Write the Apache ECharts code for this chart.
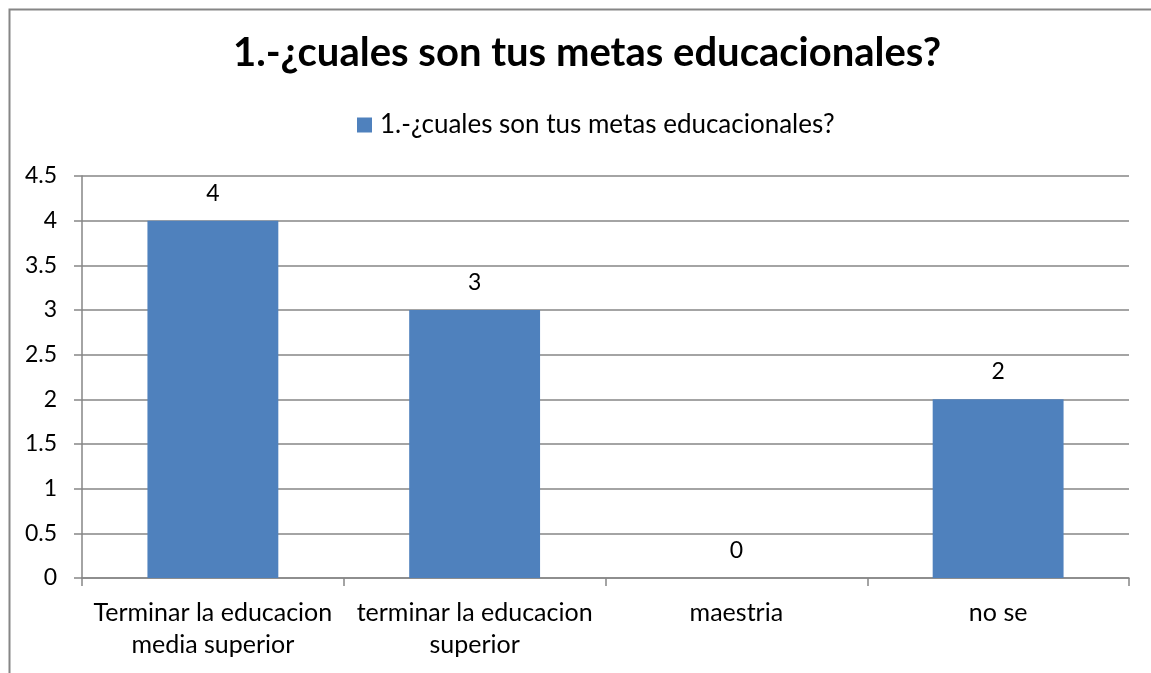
<!DOCTYPE html>
<html>
<head>
<meta charset="utf-8">
<script src="https://cdn.jsdelivr.net/npm/echarts@6/dist/echarts.min.js"></script>
<style>
html,body{margin:0;padding:0;background:#fff;}
#c{width:1151px;height:673px;}
</style>
</head>
<body>
<div id="c"></div>
<script>
const titleText = '1.-¿cuales son tus metas educacionales?';
const seriesName = '1.-¿cuales son tus metas educacionales?';
const categories = ['Terminar la educacion\nmedia superior', 'terminar la educacion\nsuperior', 'maestria', 'no se'];
const values = [4, 3, 0, 2];
const yMin = 0, yMax = 4.5, yStep = 0.5;

const font = 'Lato, "Open Sans", sans-serif';
const chart = echarts.init(document.getElementById('c'), null, {renderer: 'canvas'});
chart.setOption({
  animation: false,
  backgroundColor: '#fff',
  graphic: [{
    type: 'rect', left: 7, top: 7, silent: true,
    shape: {width: 1200, height: 700},
    style: {fill: 'none', stroke: '#868686', lineWidth: 2}
  }],
  title: {
    text: titleText, left: 228, top: 28,
    textStyle: {fontFamily: font, fontWeight: 'bold', fontSize: 40, color: '#000'}
  },
  legend: {
    top: 107, left: 352,
    itemWidth: 15, itemHeight: 15, itemGap: 8,
    icon: 'rect',
    textStyle: {fontFamily: font, fontSize: 26, color: '#000', padding: [0, 0, 0, 3]},
    data: [seriesName]
  },
  grid: {left: 82, right: 22, top: 176, bottom: 95, containLabel: false},
  xAxis: {
    type: 'category', data: categories,
    axisLine: {lineStyle: {color: '#868686', width: 1.5}},
    axisTick: {show: true, length: 8, lineStyle: {color: '#868686', width: 1.5}},
    axisLabel: {fontFamily: font, fontSize: 25, color: '#000', margin: 19, lineHeight: 32, interval: 0}
  },
  yAxis: {
    type: 'value', min: yMin, max: yMax, interval: yStep,
    axisLine: {show: true, lineStyle: {color: '#868686', width: 1.5}},
    axisTick: {show: true, length: 8, lineStyle: {color: '#868686', width: 1.5}},
    splitLine: {lineStyle: {color: '#868686', width: 1.5}},
    axisLabel: {fontFamily: font, fontSize: 23, color: '#000', margin: 25}
  },
  series: [{
    name: seriesName, type: 'bar', data: values, barWidth: '50%',
    itemStyle: {color: '#4F81BD'},
    label: {show: true, position: 'top', distance: 16, fontFamily: font, fontSize: 23, color: '#000'}
  }]
});
</script>
</body>
</html>
